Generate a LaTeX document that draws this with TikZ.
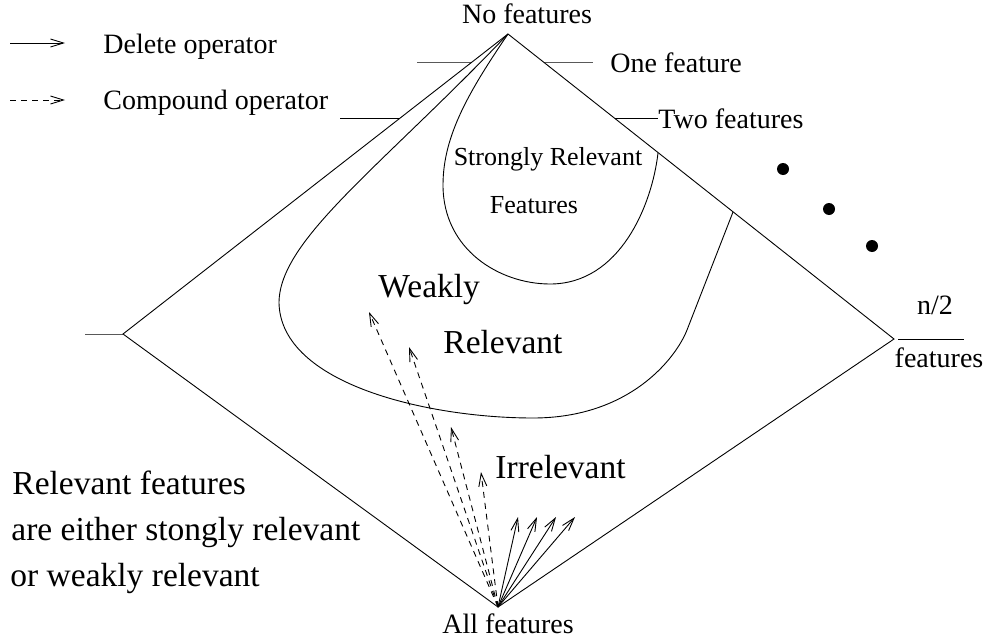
\documentclass[tikz,border=0pt]{standalone}
\usepackage{fontspec}
\setmainfont{Liberation Serif}
\usetikzlibrary{arrows.meta,positioning}

\begin{document}
\begin{tikzpicture}[x=1pt,y=-1pt,line width=0.9pt]
\tikzstyle{lab}=[inner sep=0pt,font=\fontsize{28}{34}\selectfont]
\tikzstyle{mid}=[inner sep=0pt,font=\fontsize{26}{32}\selectfont]
\tikzstyle{big}=[inner sep=0pt,font=\fontsize{33.5}{40}\selectfont]
\tikzstyle{del}=[-{Straight Barb[length=13pt,width=8pt]}]
\tikzstyle{comp}=[del,dash pattern=on 6pt off 5pt]
\tikzstyle{dot}=[circle,fill=black,inner sep=0pt,minimum size=12pt]

\useasboundingbox (0,0) rectangle (985,640);

% corners
\coordinate (top) at (508,34);
\coordinate (left) at (123,334);
\coordinate (right) at (894,339);
\coordinate (bottom) at (498,607);

% legend
\coordinate (la) at (10,43);
\coordinate (lb) at (65,43);
\coordinate (lc) at (10,100);
\coordinate (ld) at (65,100);
\draw[del] (la) -- (lb);
\draw[comp] (lc) -- (ld);
\node [lab,anchor=base west] (delop) at (103,53) {Delete operator};
\node [lab,anchor=base west] (compop) at (103,109) {Compound operator};

% levels
\node [lab,anchor=base] (none) at (527,23) {No features};
\node [lab,anchor=base west] (one) at (610,72) {One feature};
\node [lab,anchor=base west] (two) at (658,128) {Two features};
\node [lab,anchor=base] (half) at (935,314) {n/2};
\node [lab,anchor=base] (halff) at (939,367) {features};
\node [lab,anchor=base] (all) at (508,633) {All features};

\coordinate (t1a) at (417,62);
\coordinate (t1b) at (472,62);
\coordinate (t1c) at (544,62);
\coordinate (t1d) at (593,62);
\coordinate (t2a) at (340,118);
\coordinate (t2b) at (400,118);
\coordinate (t2c) at (615,118);
\coordinate (t2d) at (658,118);
\coordinate (t3a) at (85,334);
\coordinate (t4a) at (898,339);
\coordinate (t4b) at (964,339);

\draw[black!65] (t1a) -- (t1b);
\draw[black!65] (t1c) -- (t1d);
\draw (t2a) -- (t2b);
\draw (t2c) -- (t2d);
\draw[black!65] (t3a) -- (left);
\draw (t4a) -- (t4b);

% lattice
\draw (top) -- (left) -- (bottom) -- (right) -- cycle;

% regions
\coordinate (wend) at (733,212);
\coordinate (send) at (658,153);
\draw (top) .. controls (380,168) and (279,240) .. (279,303)
  .. controls (281,385) and (430,418) .. (533,418)
  .. controls (630,418) and (676,358) .. (687,330) -- (wend);
\draw (top) .. controls (470,90) and (443,135) .. (443,185)
  .. controls (443,250) and (500,284) .. (550,284)
  .. controls (620,284) and (652,205) .. (send);

\node [mid,anchor=base] (sr1) at (548,165) {Strongly Relevant};
\node [mid,anchor=base] (sr2) at (534,213) {Features};
\node [big,anchor=base west] (wr1) at (378,297) {Weakly};
\node [big,anchor=base west] (wr2) at (443,353) {Relevant};
\node [big,anchor=base west] (irr) at (495,478) {Irrelevant};

\node [big,anchor=base west] (n1) at (12,494) {Relevant features};
\node [big,anchor=base west] (n2) at (11,540) {are either stongly relevant};
\node [big,anchor=base west] (n3) at (10,586) {or weakly relevant};

% dots
\node [dot] (dt1) at (783,169) {};
\node [dot] (dt2) at (829,209) {};
\node [dot] (dt3) at (872,246) {};

% operators
\coordinate (d1) at (369,312);
\coordinate (d2) at (409,347);
\coordinate (d3) at (451,427);
\coordinate (d4) at (481,472);
\coordinate (s1) at (518,517);
\coordinate (s2) at (537,517);
\coordinate (s3) at (556,517);
\coordinate (s4) at (575,517);

\draw[comp] (bottom) -- (d1);
\draw[comp] (bottom) -- (d2);
\draw[comp] (bottom) -- (d3);
\draw[comp] (bottom) -- (d4);
\draw[del] (bottom) -- (s1);
\draw[del] (bottom) -- (s2);
\draw[del] (bottom) -- (s3);
\draw[del] (bottom) -- (s4);
\end{tikzpicture}
\end{document}
